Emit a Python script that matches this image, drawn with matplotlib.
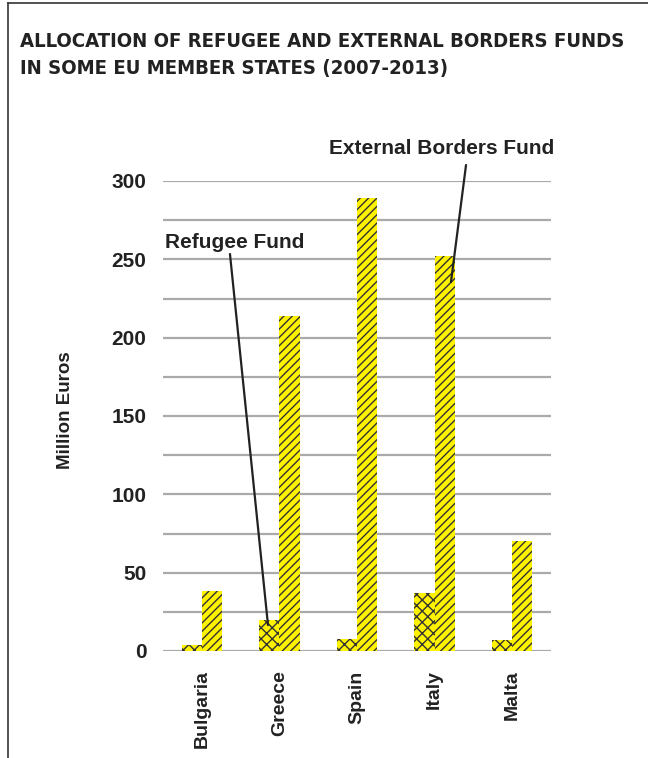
import matplotlib
matplotlib.use("Agg")
import matplotlib.pyplot as plt
from matplotlib.lines import Line2D
import numpy as np

countries = ["Bulgaria", "Greece", "Spain", "Italy", "Malta"]
refugee_fund = [4, 20, 7.5, 37, 7]
external_borders_fund = [38, 214, 289, 252, 70]
y_ticks = [0, 50, 100, 150, 200, 250, 300]
title_lines = ["ALLOCATION OF REFUGEE AND EXTERNAL BORDERS FUNDS",
               "IN SOME EU MEMBER STATES (2007-2013)"]

YELLOW = "#FFF200"
plt.rcParams['hatch.linewidth'] = 1.0
SANS = ["Liberation Sans", "DejaVu Sans"]

fig = plt.figure(figsize=(6.48, 7.58), dpi=100)
ax = fig.add_axes([163/648, 1-651/758, (551-163)/648, (651-181)/758])

x = np.arange(len(countries))
w = 0.26
ax.bar(x - w/2, refugee_fund, w, color=YELLOW, edgecolor="#333333", hatch="xxx", linewidth=0)
ax.bar(x + w/2, external_borders_fund, w, color=YELLOW, edgecolor="#333333", hatch="////", linewidth=0)

ax.set_xlim(-0.5, len(countries) - 0.5)
ax.set_ylim(0, 300)
ax.set_yticks(y_ticks)
ax.set_yticks(np.arange(0, 301, 25), minor=True)
ax.grid(True, which="both", axis="y", color="#AAAAAA", linewidth=1.6)
ax.set_axisbelow(True)
for s in ax.spines.values():
    s.set_visible(False)
ax.tick_params(axis="both", which="both", length=0)
ax.tick_params(axis="y", pad=12)
ax.set_yticklabels([str(v) for v in y_ticks], fontsize=15, fontweight="bold",
                   family=SANS, color="#222222")
ax.set_xticks(x)
ax.set_xticklabels(countries, rotation=90, fontsize=14, fontweight="bold",
                   family=SANS, color="#222222")
ax.tick_params(axis="x", pad=14)

fig.text(65/648, 1-410/758, "Million Euros", rotation=90, ha="center", va="center",
         fontsize=13.5, fontweight="bold", family=SANS, color="#222222")

# annotations: leader lines and labels
line_kw = dict(arrowstyle="-", color="#222222", lw=1.6, shrinkA=0, shrinkB=0)
ax.annotate("", xy=(0.853, 16.6), xytext=(0.363, 253.4), arrowprops=line_kw, annotation_clip=False)
ax.annotate("", xy=(3.211, 235.5), xytext=(3.405, 310.2), arrowprops=line_kw, annotation_clip=False)
ax.text(0.428, 261, "Refugee Fund", ha="center", va="center", fontsize=15, fontweight="bold",
        family=SANS, color="#222222", clip_on=False)
ax.text(3.089, 321, "External Borders Fund", ha="center", va="center", fontsize=15, fontweight="bold",
        family=SANS, color="#222222", clip_on=False)

for line, base_px in zip(title_lines, [47, 74]):
    fig.text(20/648, 1-base_px/758, line, ha="left", va="baseline", fontsize=14.6,
             fontweight="bold", family=["DejaVu Sans"], fontstretch="condensed", color="#222222")

fig.add_artist(Line2D([8/648, 8/648], [0, 1-3/758], color="#333333", lw=1.2))
fig.add_artist(Line2D([8/648, 1], [1-3/758, 1-3/758], color="#333333", lw=1.2))

fig.savefig("out.png", dpi=100)
